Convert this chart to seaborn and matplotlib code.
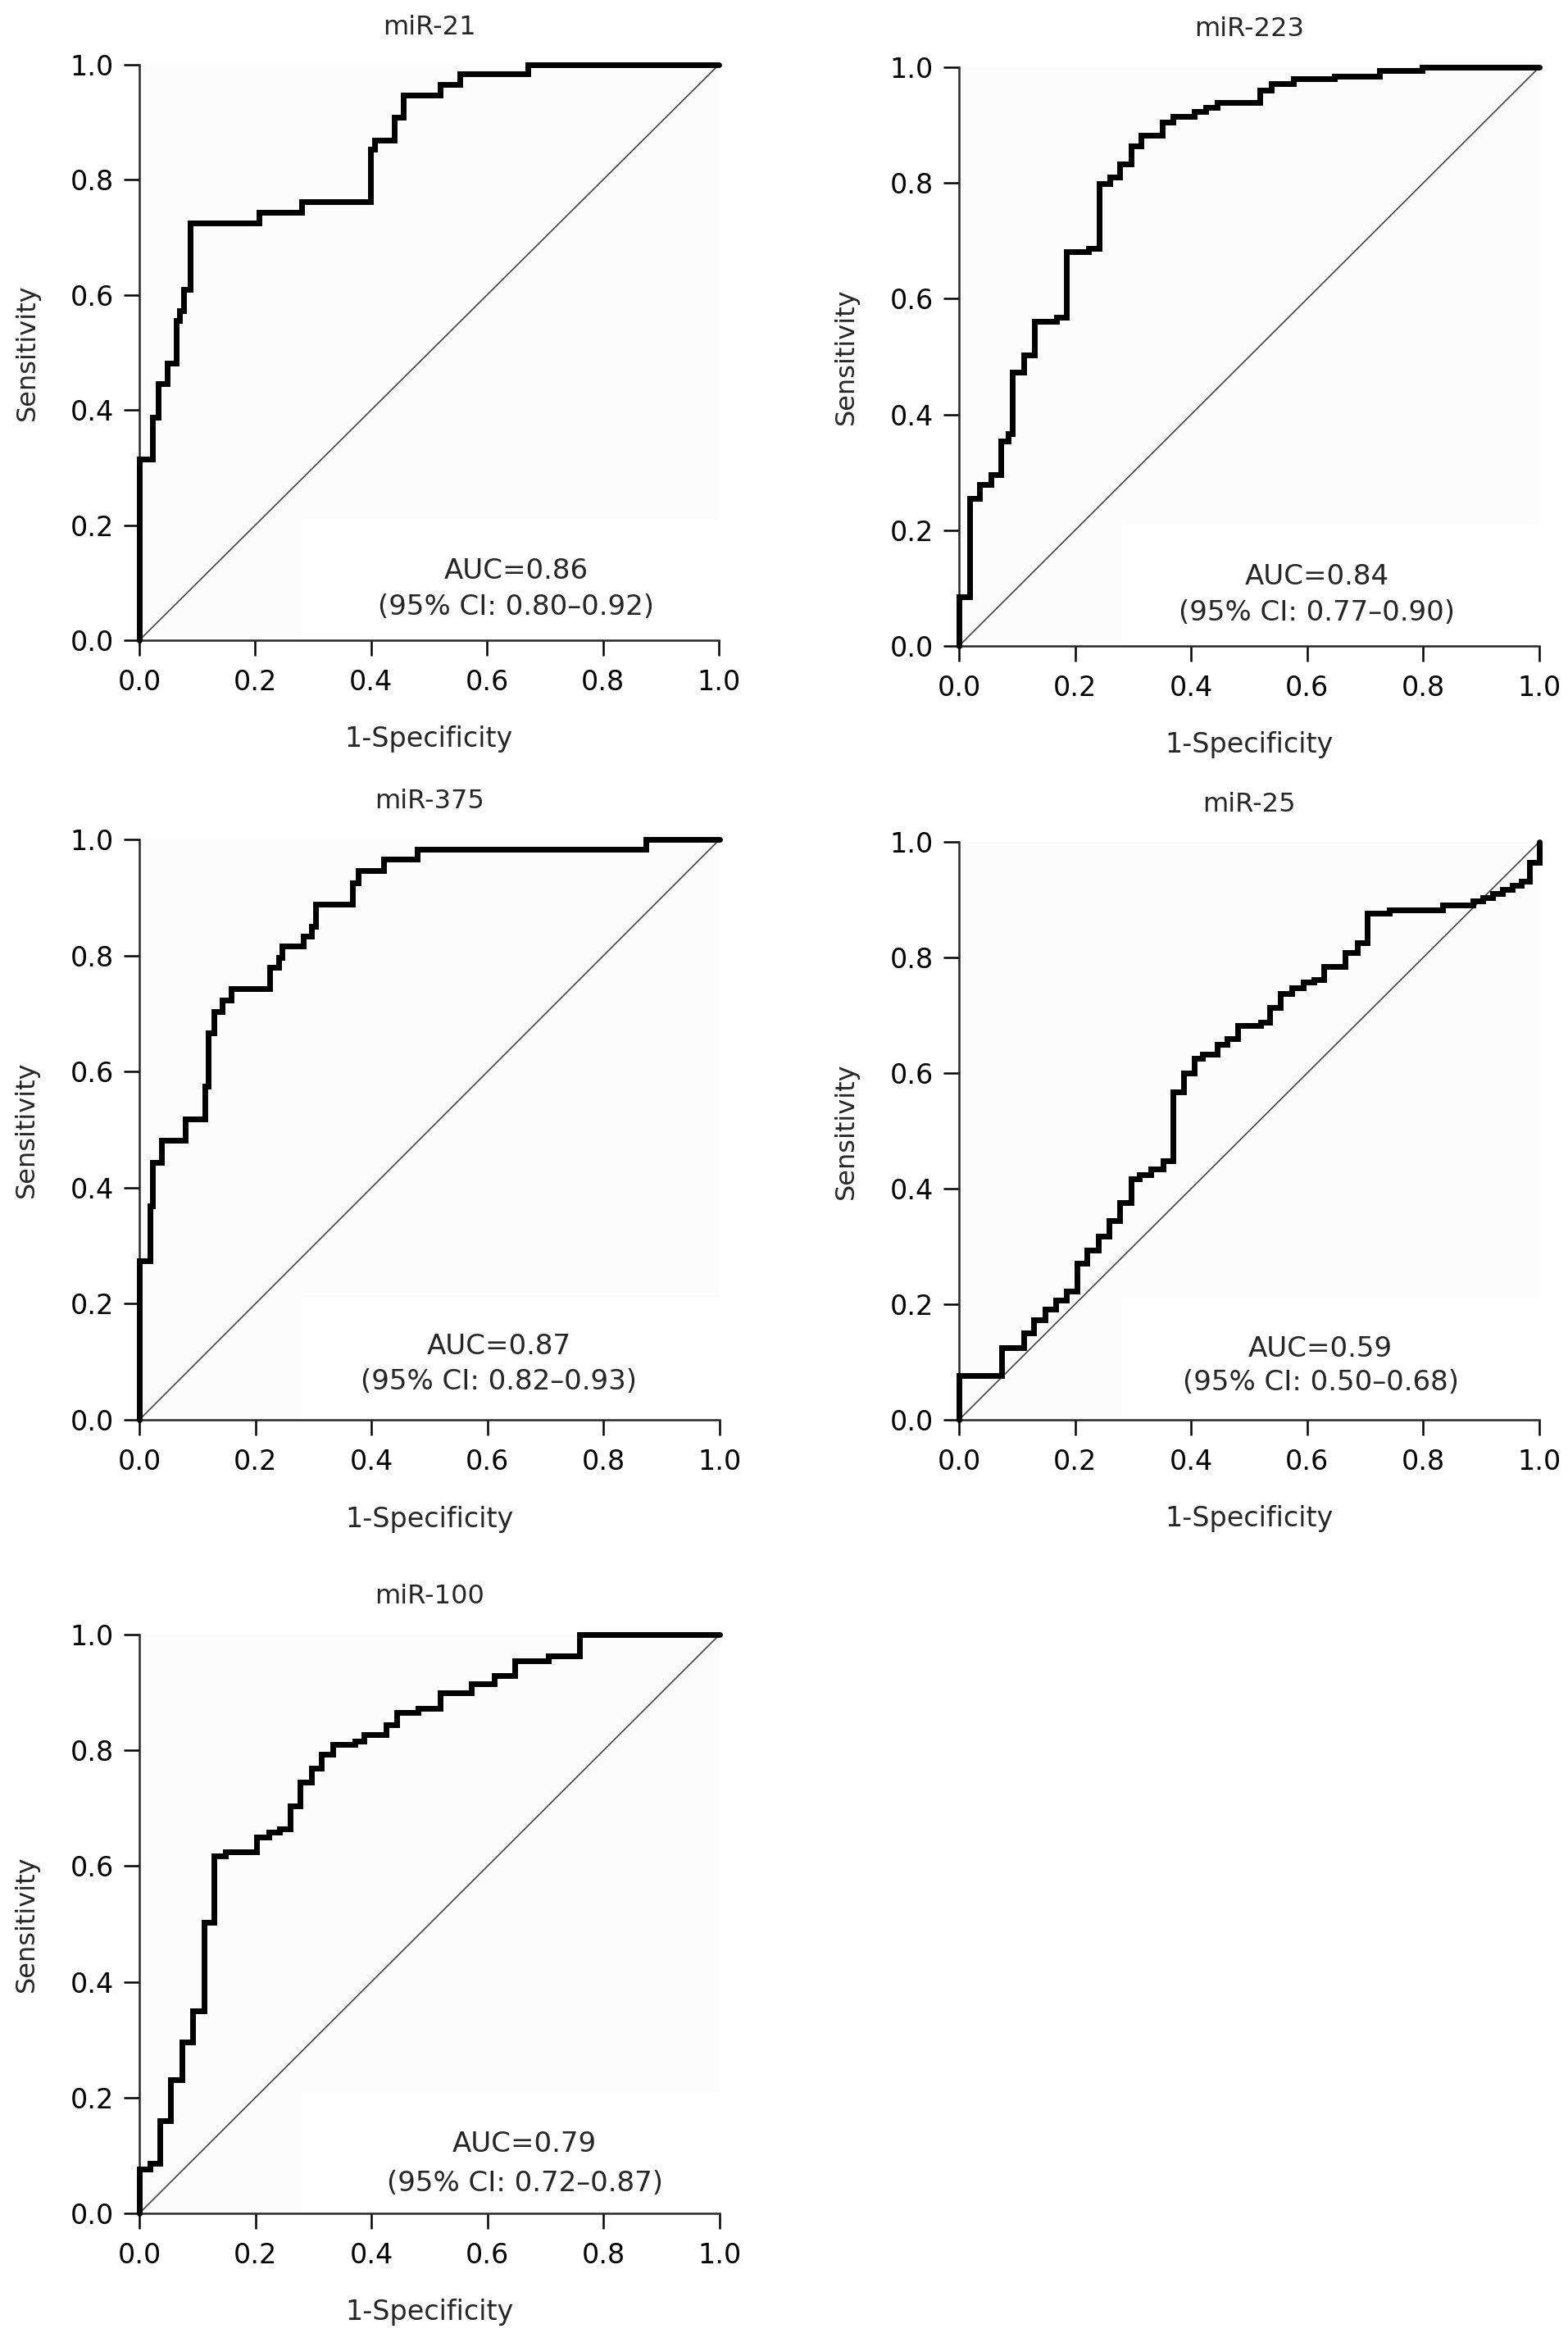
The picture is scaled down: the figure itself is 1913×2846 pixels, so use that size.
import matplotlib
matplotlib.use("Agg")
import matplotlib.pyplot as plt
from matplotlib.patches import Rectangle
import seaborn as sns

# ---------------- data ----------------
titles = ["miR-21", "miR-223", "miR-375", "miR-25", "miR-100"]
auc_labels = ["AUC=0.86", "AUC=0.84", "AUC=0.87", "AUC=0.59", "AUC=0.79"]
ci_labels = ["(95% CI: 0.80–0.92)", "(95% CI: 0.77–0.90)", "(95% CI: 0.82–0.93)",
             "(95% CI: 0.50–0.68)", "(95% CI: 0.72–0.87)"]
tick_values = [0.0, 0.2, 0.4, 0.6, 0.8, 1.0]
tick_labels = ["0.0", "0.2", "0.4", "0.6", "0.8", "1.0"]

mir21_fpr = [0.0, 0.0, 0.022, 0.033, 0.048, 0.063, 0.070, 0.077, 0.087, 0.206, 0.280,
             0.399, 0.406, 0.440, 0.456, 0.519, 0.553, 0.670, 1.0]
mir21_tpr = [0.0, 0.315, 0.388, 0.446, 0.482, 0.555, 0.573, 0.610, 0.725, 0.743, 0.762,
             0.853, 0.869, 0.909, 0.947, 0.966, 0.984, 1.0, 1.0]

mir223_fpr = [0.0, 0.0, 0.019, 0.036, 0.055, 0.072, 0.085, 0.092, 0.111, 0.130,
              0.168, 0.185, 0.223, 0.242, 0.260, 0.277, 0.296, 0.313, 0.350, 0.368,
              0.406, 0.425, 0.445, 0.518, 0.538, 0.576, 0.647, 0.724, 0.798, 1.0]
mir223_tpr = [0.0, 0.085, 0.255, 0.279, 0.296, 0.354, 0.367, 0.473, 0.503, 0.561,
              0.568, 0.682, 0.687, 0.799, 0.810, 0.833, 0.864, 0.882, 0.905, 0.915,
              0.924, 0.930, 0.939, 0.961, 0.971, 0.980, 0.985, 0.995, 1.0, 1.0]

mir375_fpr = [0.0, 0.0, 0.018, 0.023, 0.038, 0.079, 0.113, 0.119, 0.128, 0.142, 0.158,
              0.224, 0.240, 0.246, 0.282, 0.296, 0.303, 0.367, 0.377, 0.421, 0.479,
              0.873, 1.0]
mir375_tpr = [0.0, 0.274, 0.368, 0.443, 0.482, 0.519, 0.575, 0.667, 0.704, 0.723, 0.743,
              0.779, 0.797, 0.817, 0.834, 0.850, 0.889, 0.925, 0.946, 0.966, 0.983,
              1.0, 1.0]

mir25_fpr = [0.0, 0.0, 0.073, 0.111, 0.129, 0.149, 0.167, 0.185, 0.204, 0.221,
             0.240, 0.258, 0.277, 0.296, 0.311, 0.331, 0.352, 0.369, 0.387, 0.405,
             0.420, 0.445, 0.462, 0.480, 0.520, 0.536, 0.554, 0.574, 0.593, 0.611,
             0.629, 0.665, 0.686, 0.703, 0.742, 0.834, 0.885, 0.902, 0.919, 0.936,
             0.953, 0.969, 0.983, 1.0]
mir25_tpr = [0.0, 0.076, 0.125, 0.151, 0.173, 0.191, 0.207, 0.223, 0.271, 0.294,
             0.318, 0.344, 0.376, 0.417, 0.424, 0.434, 0.448, 0.567, 0.600, 0.625,
             0.632, 0.649, 0.659, 0.682, 0.688, 0.713, 0.737, 0.748, 0.757, 0.761,
             0.785, 0.809, 0.825, 0.877, 0.882, 0.891, 0.898, 0.904, 0.911, 0.918,
             0.925, 0.932, 0.964, 1.0]

mir100_fpr = [0.0, 0.0, 0.018, 0.036, 0.054, 0.073, 0.092, 0.111, 0.129, 0.149,
              0.202, 0.223, 0.242, 0.260, 0.277, 0.296, 0.314, 0.333, 0.371, 0.387,
              0.425, 0.443, 0.480, 0.518, 0.572, 0.611, 0.647, 0.705, 0.759, 1.0]
mir100_tpr = [0.0, 0.076, 0.087, 0.160, 0.231, 0.296, 0.350, 0.503, 0.618, 0.624,
              0.650, 0.659, 0.665, 0.704, 0.745, 0.769, 0.793, 0.810, 0.816, 0.827,
              0.844, 0.865, 0.873, 0.899, 0.915, 0.929, 0.954, 0.963, 1.0, 1.0]

curves = [(mir21_fpr, mir21_tpr), (mir223_fpr, mir223_tpr), (mir375_fpr, mir375_tpr),
          (mir25_fpr, mir25_tpr), (mir100_fpr, mir100_tpr)]

# ---------------- style ----------------
sns.set_style("ticks")
plt.rcParams["font.family"] = ["DejaVu Sans"]
plt.rcParams["axes.linewidth"] = 1.8

W, H = 1913, 2846
fig = plt.figure(figsize=(W / 100, H / 100), dpi=100, facecolor="white")

# axes boxes in pixel coords: (left, top, right, bottom)
boxes = [(170, 79, 877, 781), (1170, 82, 1878, 788), (170, 1024, 878, 1732),
         (1170, 1027, 1878, 1732), (170, 1994, 878, 2700)]
text_pos = [(0.650, 0.121, 0.058), (0.617, 0.119, 0.058), (0.620, 0.127, 0.065),
            (0.623, 0.123, 0.064), (0.664, 0.119, 0.052)]

for i, (l, t, r, b) in enumerate(boxes):
    ax = fig.add_axes([l / W, 1 - b / H, (r - l) / W, (b - t) / H])
    ax.set_facecolor("#fcfcfc")
    ax.add_patch(Rectangle((0.28, 0.0), 0.72, 0.21, transform=ax.transAxes,
                           facecolor="white", edgecolor="none", zorder=0))
    # chance diagonal
    sns.lineplot(x=[0.0, 1.0], y=[0.0, 1.0], ax=ax, color="#444444", linewidth=1.2,
                 estimator=None, sort=False, legend=False, zorder=2)
    fpr, tpr = curves[i]
    sns.lineplot(x=fpr, y=tpr, ax=ax, color="black", linewidth=5.0,
                 estimator=None, sort=False, legend=False, drawstyle="steps-post",
                 clip_on=False, zorder=5, solid_joinstyle="miter")
    ax.set_xlim(0, 1)
    ax.set_ylim(0, 1)
    ax.set_xticks(tick_values)
    ax.set_xticklabels(tick_labels)
    ax.set_yticks(tick_values)
    ax.set_yticklabels(tick_labels)
    sns.despine(ax=ax)
    ax.tick_params(axis="both", direction="out", length=13.5, width=1.8,
                   labelsize=24, colors="black")
    ax.tick_params(axis="x", pad=12)
    ax.tick_params(axis="y", pad=9)
    ax.set_title(titles[i], fontsize=23, pad=27)
    ax.set_xlabel("1-Specificity", fontsize=24)
    ax.set_ylabel("Sensitivity", fontsize=23)
    ax.xaxis.set_label_coords(0.5, -0.148)
    ax.yaxis.set_label_coords(-0.172, 0.5)
    tx, ty1, ty2 = text_pos[i]
    ax.text(tx, ty1, auc_labels[i], transform=ax.transAxes, ha="center",
            va="center", fontsize=24.5, zorder=6)
    ax.text(tx, ty2, ci_labels[i], transform=ax.transAxes, ha="center",
            va="center", fontsize=24.5, zorder=6)

fig.savefig("out.png", dpi=100, facecolor="white")
